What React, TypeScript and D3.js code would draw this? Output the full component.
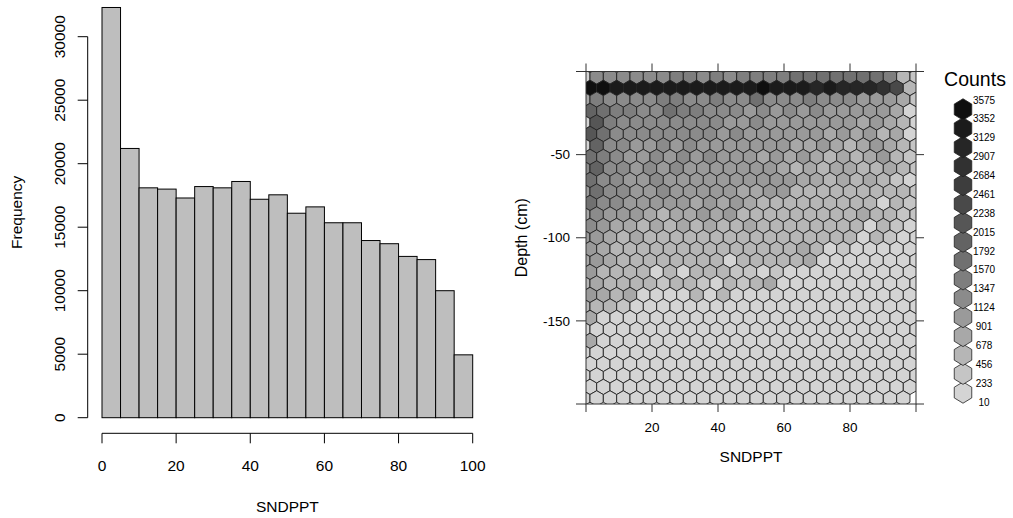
import React from "react";
import * as d3 from "d3";

// ---------- Histogram data ----------
const binEdges = [0, 5, 10, 15, 20, 25, 30, 35, 40, 45, 50, 55, 60, 65, 70, 75, 80, 85, 90, 95, 100];
const binCounts = [32300, 21200, 18100, 18000, 17300, 18200, 18100, 18600, 17200, 17550, 16100, 16600, 15350, 15350, 13950, 13700, 12700, 12450, 10000, 4950];
const histYTicks = [0, 5000, 10000, 15000, 20000, 25000, 30000];
const histXTicks = [0, 20, 40, 60, 80, 100];

// ---------- Hexbin data ----------
const hexXTicks = [0, 20, 40, 60, 80, 100];
const hexXLabels = [20, 40, 60, 80];
const hexYTicks = [0, -50, -100, -150, -200];
const hexYLabels = [-50, -100, -150];
const countBreaks = [10, 233, 456, 678, 901, 1124, 1347, 1570, 1792, 2015, 2238, 2461, 2684, 2907, 3129, 3352, 3575];

// hexbin grid (data units): first column centre, column step, first row depth, row step
const gridX0 = 1.21;
const gridDX = 4.04;
const gridY0 = -3.0;
const gridDY = 6.915;

// colour level (0-15, hex digit) of every cell, one string per hexagon row, top to bottom.
// even rows are shifted half a column to the left; "." = empty cell
const hexRows = [
  "0555555665656" + "6667777777621",
  "ffeeeeeeeeeee" + "feeededdd" + "ca2",
  "3655556655655" + "7555655544431",
  "876655766555" + "4545454444430",
  "0965555555544" + "5444444434320",
  "975555555545" + "4444443434230",
  "0855445454444" + "4443343234321",
  "765445454544" + "4343432323421",
  "5855454544444" + "4432323322321",
  "755445444444" + "4444332323210",
  "4755445444443" + "3442222222221",
  "755444443434" + "3222222222021",
  "3544432334342" + "2222222232211",
  "543323232322" + "3222222220210",
  "4432322222222" + "2222222202100",
  "432222222222" + "2222320100000",
  "3432222222202" + "2222300000000",
  "422220202221" + "1010000000000",
  "2322221221021" + "2300000000000",
  "432300002020" + "0000000000000",
  "2221000000000" + "0000000000000",
  "300000000000" + "0000000000000",
  "0000000000000" + "0000000000000",
  "300000000000" + "0000000000000",
  "0000000000000" + "0000000000000",
  "000000000000" + "0000000000000",
  "0000000000000" + "0000000000000",
  "000000000000" + "0000000000000",
  "0000000000000" + "000000000000.",
];

const FONT = "Liberation Sans, Arial, Helvetica, sans-serif";

export default function App() {
  // ---- histogram scales ----
  const hxs = d3.scaleLinear().domain([0, 100]).range([102, 472.7]);
  const hys = d3.scaleLinear().domain([0, 30000]).range([417.7, 36.7]);
  const yAxisX = 87.7;
  const xAxisY = 433.3;

  // ---- hexbin scales ----
  const px = d3.scaleLinear().domain([0, 100]).range([586, 916]);
  const py = d3.scaleLinear().domain([-200, 0]).range([404, 71.5]);
  const colour = (lvl: number) => d3.interpolateLab("#d4d4d4", "#0f0f0f")(lvl / 15);

  const cellW = px(gridDX) - px(0);
  const cellH = py(0) - py(gridDY);
  const hexPath = (cx: number, cy: number, w: number, h: number) => {
    const pts: [number, number][] = [
      [cx, cy - (2 * h) / 3],
      [cx + w / 2, cy - h / 3],
      [cx + w / 2, cy + h / 3],
      [cx, cy + (2 * h) / 3],
      [cx - w / 2, cy + h / 3],
      [cx - w / 2, cy - h / 3],
    ];
    return "M" + pts.map((p) => p[0].toFixed(2) + "," + p[1].toFixed(2)).join("L") + "Z";
  };

  const cells: { d: string; fill: string }[] = [];
  hexRows.forEach((row, r) => {
    const x0 = r % 2 === 0 ? gridX0 - gridDX / 2 : gridX0;
    const yd = gridY0 - r * gridDY;
    row.split("").forEach((ch, j) => {
      if (ch === ".") return;
      const lvl = parseInt(ch, 16);
      const cx = px(x0 + j * gridDX);
      const cy = py(yd);
      cells.push({ d: hexPath(cx, cy, cellW, cellH), fill: colour(lvl) });
    });
  });

  // ---- legend ----
  const ly = d3.scaleLinear().domain([0, countBreaks.length - 1]).range([402, 100]);
  const legendX = 963;
  const legendHexW = 17.5;
  const legendHexH = 16;

  const panelL = px(0), panelR = px(100), panelT = py(0), panelB = py(-200);
  const tick = 8;

  return (
    <div style={{ position: "fixed", left: 0, top: 0, width: 1013, height: 518, background: "#fff" }}>
      <svg width={1013} height={518} style={{ display: "block" }} fontFamily={FONT}>
        <rect x={0} y={0} width={1013} height={518} fill="#fff" />
        {/* ===== Histogram ===== */}
        <g>
          {binCounts.map((c, i) => (
            <rect
              key={i}
              x={hxs(binEdges[i])}
              y={hys(c)}
              width={hxs(binEdges[i + 1]) - hxs(binEdges[i])}
              height={hys(0) - hys(c)}
              fill="#bebebe"
              stroke="#000"
              strokeWidth={1}
            />
          ))}
          {/* y axis */}
          <line x1={yAxisX} x2={yAxisX} y1={hys(0)} y2={hys(30000)} stroke="#000" />
          {histYTicks.map((t) => (
            <g key={t}>
              <line x1={yAxisX - 10} x2={yAxisX} y1={hys(t)} y2={hys(t)} stroke="#000" />
              <text
                transform={`translate(${65},${hys(t)}) rotate(-90)`}
                textAnchor="middle"
                fontSize={15.5}
                fill="#000"
              >
                {t}
              </text>
            </g>
          ))}
          {/* x axis */}
          <line x1={hxs(0)} x2={hxs(100)} y1={xAxisY} y2={xAxisY} stroke="#000" />
          {histXTicks.map((t) => (
            <g key={t}>
              <line x1={hxs(t)} x2={hxs(t)} y1={xAxisY} y2={xAxisY + 10} stroke="#000" />
              <text x={hxs(t)} y={471} textAnchor="middle" fontSize={15.5} fill="#000">
                {t}
              </text>
            </g>
          ))}
          <text x={hxs(50)} y={512} textAnchor="middle" fontSize={15.5} fill="#000">
            SNDPPT
          </text>
          <text transform={`translate(22,${(hys(0) + 7) / 2}) rotate(-90)`} textAnchor="middle" fontSize={15.5} fill="#000">
            Frequency
          </text>
        </g>

        {/* ===== Hexbin ===== */}
        <defs>
          <clipPath id="panelClip">
            <rect x={panelL} y={panelT} width={panelR - panelL} height={panelB - panelT} />
          </clipPath>
        </defs>
        <g clipPath="url(#panelClip)">
          {cells.map((c, i) => (
            <path key={i} d={c.d} fill={c.fill} stroke="#222" strokeWidth={0.9} />
          ))}
        </g>
        <rect x={panelL} y={panelT} width={panelR - panelL} height={panelB - panelT} fill="none" stroke="#333" />
        {hexXTicks.map((t) => (
          <g key={"xt" + t}>
            <line x1={px(t)} x2={px(t)} y1={panelB} y2={panelB + tick} stroke="#333" />
            <line x1={px(t)} x2={px(t)} y1={panelT} y2={panelT - tick} stroke="#333" />
          </g>
        ))}
        {hexXLabels.map((t) => (
          <text key={"xl" + t} x={px(t)} y={431.5} textAnchor="middle" fontSize={13.5} fill="#000">
            {t}
          </text>
        ))}
        {hexYTicks.map((t) => (
          <g key={"yt" + t}>
            <line x1={panelL - tick - 2} x2={panelL} y1={py(t)} y2={py(t)} stroke="#333" />
            <line x1={panelR} x2={panelR + tick} y1={py(t)} y2={py(t)} stroke="#333" />
          </g>
        ))}
        {hexYLabels.map((t) => (
          <text key={"yl" + t} x={570} y={py(t)} dy="0.35em" textAnchor="end" fontSize={13.5} fill="#000">
            {t}
          </text>
        ))}
        <text x={px(50)} y={462} textAnchor="middle" fontSize={15.5} fill="#000">
          SNDPPT
        </text>
        <text transform={`translate(527,${(panelT + panelB) / 2}) rotate(-90)`} textAnchor="middle" fontSize={16} fill="#000">
          Depth (cm)
        </text>

        {/* ===== Legend ===== */}
        <text x={975} y={86} textAnchor="middle" fontSize={19.5} fill="#000">
          Counts
        </text>
        {countBreaks.slice(0, -1).map((b, k) => {
          const cy = ly(k + 0.5);
          return (
            <path
              key={"lh" + b}
              d={hexPath(legendX, cy, legendHexW, legendHexH)}
              fill={colour(k)}
              stroke="#222"
              strokeWidth={0.8}
            />
          );
        })}
        {countBreaks.map((b, k) => (
          <text key={"lt" + b} x={984} y={ly(k)} dy="0.35em" textAnchor="middle" fontSize={10} fill="#000">
            {b}
          </text>
        ))}
      </svg>
    </div>
  );
}
